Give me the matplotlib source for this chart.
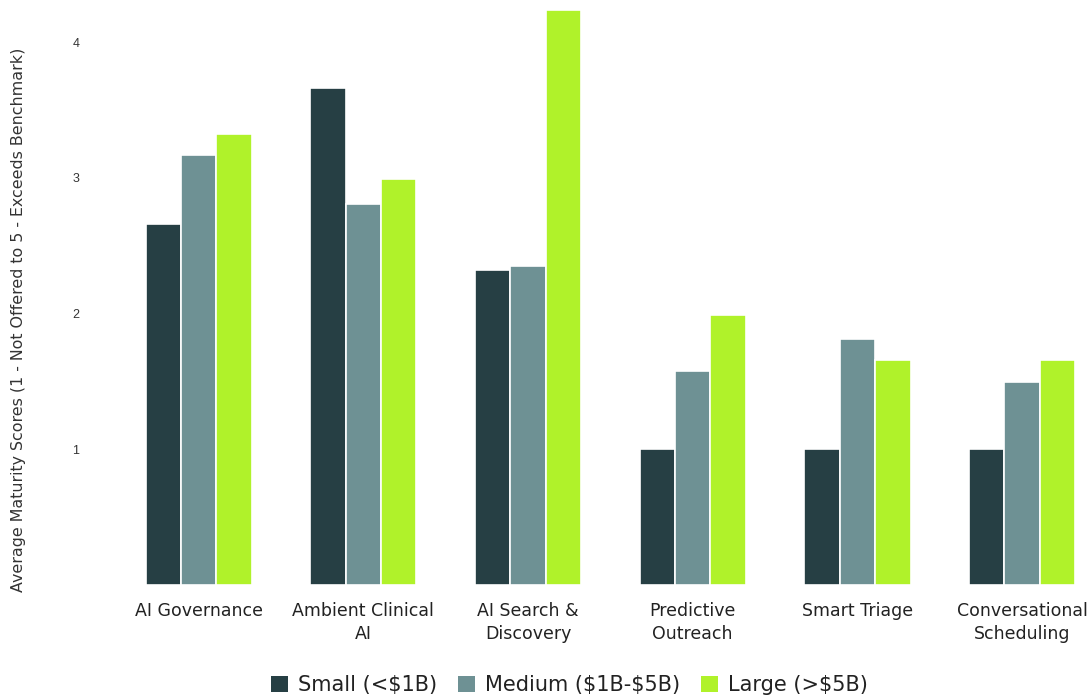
import numpy as np
import matplotlib.pyplot as plt
from matplotlib.patches import Patch

# ================= 数据 =================
categories = ["AI Governance", "Ambient Clinical\nAI", "AI Search &\nDiscovery",
              "Predictive\nOutreach", "Smart Triage", "Conversational\nScheduling"]
series_names = ["Small (<$1B)", "Medium ($1B-$5B)", "Large (>$5B)"]
small_vals = [2.66, 3.66, 2.32, 1.0, 1.0, 1.0]
medium_vals = [3.17, 2.81, 2.35, 1.58, 1.81, 1.50]
large_vals = [3.32, 2.99, 4.24, 1.99, 1.66, 1.66]
y_ticks = [1, 2, 3, 4]

colors = ["#263f44", "#6e9194", "#b0f22a"]

plt.rcParams['font.family'] = ['DejaVu Sans']

fig = plt.figure(figsize=(10.87, 7.0), dpi=100)
ax = fig.add_axes([0.107, 0.164, 0.893, 0.836])

# $ 要转义，否则被当成数学公式
legend_names = [n.replace("$", r"\$") for n in series_names]

x = np.arange(len(categories))
step = 0.215
for i, (vals, c) in enumerate(zip([small_vals, medium_vals, large_vals], colors)):
    ax.bar(x + (i - 1) * step, vals, width=step, color=c, edgecolor="white",
           linewidth=1.2)

ax.set_xlim(-0.5, 5.394)
ax.set_ylim(0, 4.31)
ax.set_yticks(y_ticks)
ax.set_yticklabels([str(t) for t in y_ticks], fontsize=9, color="#333333",
                   fontfamily="Liberation Sans")
ax.tick_params(axis="y", length=0, pad=26.5)
ax.set_xticks(x)
ax.set_xticklabels(categories, fontsize=12.5, color="#222222", linespacing=1.35)
ax.tick_params(axis="x", length=0, pad=12)
for s in ax.spines.values():
    s.set_visible(False)

ax.set_ylabel("Average Maturity Scores (1 - Not Offered to 5 - Exceeds Benchmark)",
              fontsize=11.4, color="#333333")
ax.yaxis.set_label_coords(-0.093, 0.453)

handles = [Patch(facecolor=c, edgecolor="none") for c in colors]
fig.legend(handles, legend_names, loc="center", bbox_to_anchor=(0.524, 0.021),
           ncol=3, frameon=False, fontsize=15, handlelength=0.8, handleheight=0.8,
           handletextpad=0.5, columnspacing=1.0, labelcolor="#222222")

fig.savefig("out.png", dpi=100)
